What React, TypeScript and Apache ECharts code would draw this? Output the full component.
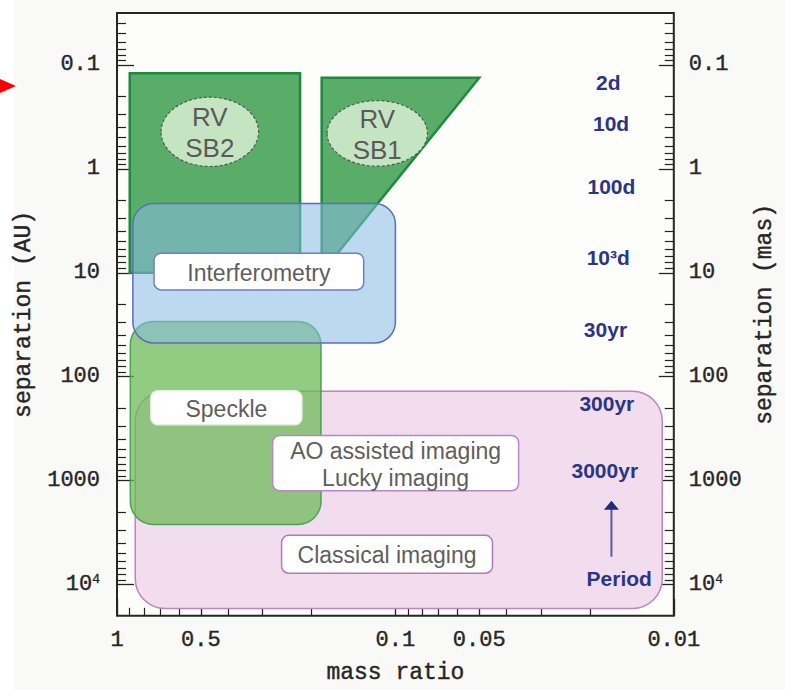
import React, { useEffect, useRef } from 'react';
import * as echarts from 'echarts';

// ---------- axis ticks & labels ----------
const xMajorTicks = [1, 0.5, 0.1, 0.05, 0.01];
const xMajorLabels = ['1', '0.5', '0.1', '0.05', '0.01'];
const xMinorTicks = [0.9, 0.8, 0.7, 0.6, 0.4, 0.3, 0.2, 0.09, 0.08, 0.07, 0.06, 0.04, 0.03, 0.02];
const yMajorTicks = [0.1, 1, 10, 100, 1000, 10000];
const yMajorLabels = ['0.1', '1', '10', '100', '1000', '10{sup|4}'];
const yMinorTicks = [
  0.04, 0.05, 0.06, 0.07, 0.08, 0.09,
  0.2, 0.3, 0.4, 0.5, 0.6, 0.7, 0.8, 0.9,
  2, 3, 4, 5, 6, 7, 8, 9,
  20, 30, 40, 50, 60, 70, 80, 90,
  200, 300, 400, 500, 600, 700, 800, 900,
  2000, 3000, 4000, 5000, 6000, 7000, 8000, 9000,
];

// ---------- technique regions (mass ratio range, separation range in AU) ----------
const regionNames = ['Classical imaging', 'Speckle', 'Interferometry'];
const regionQHigh = [0.86, 0.896, 0.877];
const regionQLow = [0.011, 0.185, 0.1];
const regionSepLow = [138, 29.5, 2.15];
const regionSepHigh = [17000, 2640, 47.4];

// ---------- RV polygons ----------
const sb2Q = [0.9, 0.22, 0.22, 0.9];
const sb2Sep = [0.12, 0.12, 10, 10];
const sb1Q = [0.184, 0.05, 0.184];
const sb1Sep = [0.133, 0.133, 10];

// ---------- RV ellipses ----------
const ellipseTexts = ['RV\nSB2', 'RV\nSB1'];
const ellipseQHigh = [0.695, 0.176];
const ellipseQLow = [0.31, 0.0767];
const ellipseSepLow = [0.204, 0.22];
const ellipseSepHigh = [0.948, 0.942];

// ---------- label boxes ----------
const boxTexts = ['Interferometry', 'Speckle', 'AO assisted imaging\nLucky imaging', 'Classical imaging'];
const boxQHigh = [0.736, 0.756, 0.276, 0.2563];
const boxQLow = [0.13, 0.2167, 0.0361, 0.0448];
const boxSepLow = [6.49, 136.7, 367, 3365];
const boxSepHigh = [14.6, 290, 1253, 7780];

// ---------- period labels ----------
const periodLabels = ['2d', '10d', '100d', '10³d', '30yr', '300yr', '3000yr', 'Period'];
const periodQ = [0.0172, 0.0168, 0.01675, 0.0172, 0.0176, 0.0174, 0.0177, 0.0157];
const periodSep = [0.147, 0.367, 1.47, 7.08, 35.4, 183, 791, 8810];
const arrowQ = [0.01675];
const arrowSepTail = [5400];
const arrowSepHead = [1560];

// ---------- styles ----------
const REGION_STYLES: Record<string, { fill: string; stroke: string; r: number }> = {
  'Classical imaging': { fill: '#f1ddee', stroke: '#c283b6', r: 30 },
  Speckle: { fill: 'rgba(108,186,88,0.74)', stroke: 'rgba(60,150,75,0.85)', r: 23 },
  Interferometry: { fill: 'rgba(137,188,228,0.55)', stroke: '#5b6fb8', r: 21 },
};
const BOX_STROKES = ['#6f7fc0', '#e6f0e2', '#b48ac0', '#b07cb8'];
const AXIS_FONT = 'Liberation Mono';
const SANS = 'Liberation Sans';

function labelFor(ticks: number[], labels: string[], v: number) {
  for (let i = 0; i < ticks.length; i++) {
    if (Math.abs(Math.log10(v) - Math.log10(ticks[i])) < 1e-6) return labels[i];
  }
  return '';
}

function makeRegionSeries(indices: number[]) {
  return {
    type: 'custom',
    xAxisIndex: 0,
    yAxisIndex: 0,
    encode: { x: [0, 1], y: [2, 3] },
    data: indices.map((i) => ({
      name: regionNames[i],
      value: [regionQHigh[i], regionQLow[i], regionSepLow[i], regionSepHigh[i]],
    })),
    renderItem: (params: any, api: any) => {
      const name = regionNames[indices[params.dataIndex]];
      const st = REGION_STYLES[name];
      const p1 = api.coord([api.value(0), api.value(2)]);
      const p2 = api.coord([api.value(1), api.value(3)]);
      return {
        type: 'rect',
        shape: {
          x: Math.min(p1[0], p2[0]),
          y: Math.min(p1[1], p2[1]),
          width: Math.abs(p2[0] - p1[0]),
          height: Math.abs(p2[1] - p1[1]),
          r: st.r,
        },
        style: { fill: st.fill, stroke: st.stroke, lineWidth: 1.5 },
      };
    },
  };
}

export default function App() {
  const ref = useRef<HTMLDivElement>(null);

  useEffect(() => {
    if (!ref.current) return;
    const chart = echarts.init(ref.current, undefined, { renderer: 'svg' });

    const polygons = [
      { q: sb2Q, sep: sb2Sep },
      { q: sb1Q, sep: sb1Sep },
    ];

    const ink = '#262626';
    const axisTextStyle = {
      fontFamily: AXIS_FONT,
      fontSize: 22,
      color: ink,
      textBorderColor: ink,
      textBorderWidth: 0.4,
    };
    const richY = {
      sup: {
        fontFamily: AXIS_FONT,
        fontSize: 13,
        color: ink,
        textBorderColor: ink,
        textBorderWidth: 0.3,
        verticalAlign: 'top',
        padding: [0, 0, 10, 0],
      },
    };
    const nameStyle = {
      fontFamily: AXIS_FONT,
      fontSize: 23,
      color: ink,
      textBorderColor: ink,
      textBorderWidth: 0.4,
    };

    const option: any = {
      animation: false,
      backgroundColor: '#f9f9f7',
      grid: {
        left: 117,
        right: 110,
        top: 13,
        bottom: 68,
        show: true,
        borderColor: '#262626',
        borderWidth: 2,
        backgroundColor: '#fdfdfc',
        containLabel: false,
      },
      xAxis: [
        {
          type: 'log',
          logBase: 10,
          min: 0.01,
          max: 1,
          inverse: true,
          position: 'bottom',
          name: 'mass ratio',
          nameLocation: 'middle',
          nameGap: 46,
          nameTextStyle: nameStyle,
          axisLine: { show: false },
          splitLine: { show: false },
          axisTick: { show: true, inside: true, length: 17, customValues: xMajorTicks, lineStyle: { color: '#222', width: 1.3 } },
          axisLabel: {
            customValues: xMajorTicks,
            margin: 14,
            ...axisTextStyle,
            formatter: (v: number) => labelFor(xMajorTicks, xMajorLabels, v),
          },
        },
        {
          type: 'log',
          logBase: 10,
          min: 0.01,
          max: 1,
          inverse: true,
          position: 'bottom',
          axisLine: { show: false },
          splitLine: { show: false },
          axisLabel: { show: false },
          axisTick: { show: true, inside: true, length: 8, customValues: xMinorTicks, lineStyle: { color: '#222', width: 1.2 } },
        },
      ],
      yAxis: [
        {
          type: 'log',
          logBase: 10,
          min: 0.0316,
          max: 20000,
          inverse: true,
          position: 'left',
          name: 'separation (AU)',
          nameLocation: 'middle',
          nameRotate: 90,
          nameGap: 70,
          nameTextStyle: nameStyle,
          axisLine: { show: false },
          splitLine: { show: false },
          axisTick: { show: true, inside: true, length: 17, customValues: yMajorTicks, lineStyle: { color: '#222', width: 1.3 } },
          axisLabel: {
            customValues: yMajorTicks,
            margin: 17,
            ...axisTextStyle,
            rich: richY,
            formatter: (v: number) => labelFor(yMajorTicks, yMajorLabels, v),
          },
        },
        {
          type: 'log',
          logBase: 10,
          min: 0.0316,
          max: 20000,
          inverse: true,
          position: 'left',
          axisLine: { show: false },
          splitLine: { show: false },
          axisLabel: { show: false },
          axisTick: { show: true, inside: true, length: 9, customValues: yMinorTicks, lineStyle: { color: '#222', width: 1.2 } },
        },
        {
          type: 'log',
          logBase: 10,
          min: 0.0316,
          max: 20000,
          inverse: true,
          position: 'right',
          name: 'separation (mas)',
          nameLocation: 'middle',
          nameRotate: 90,
          nameGap: 80,
          nameTextStyle: nameStyle,
          axisLine: { show: false },
          splitLine: { show: false },
          axisTick: { show: true, inside: true, length: 15, customValues: yMajorTicks, lineStyle: { color: '#222', width: 1.3 } },
          axisLabel: {
            customValues: yMajorTicks,
            margin: 15,
            ...axisTextStyle,
            rich: richY,
            formatter: (v: number) => labelFor(yMajorTicks, yMajorLabels, v),
          },
        },
        {
          type: 'log',
          logBase: 10,
          min: 0.0316,
          max: 20000,
          inverse: true,
          position: 'right',
          axisLine: { show: false },
          splitLine: { show: false },
          axisLabel: { show: false },
          axisTick: { show: true, inside: true, length: 9, customValues: yMinorTicks, lineStyle: { color: '#222', width: 1.2 } },
        },
      ],
      graphic: [
        { type: 'rect', left: 0, top: 0, shape: { width: 14, height: 690 }, style: { fill: '#ffffff' }, z: -1 },
        { type: 'polygon', shape: { points: [[0, 79], [16, 86], [0, 93]] }, style: { fill: '#ff0000' } },
      ],
      series: [
        makeRegionSeries([0, 1]),
        {
          type: 'custom',
          xAxisIndex: 0,
          yAxisIndex: 0,
          data: polygons.map((p) => [p.q[0], p.sep[0]]),
          renderItem: (params: any, api: any) => {
            const poly = polygons[params.dataIndex];
            const points = poly.q.map((q, k) => api.coord([q, poly.sep[k]]));
            return {
              type: 'polygon',
              shape: { points },
              style: { fill: '#5aad68', stroke: '#1d8a3c', lineWidth: 2.5 },
            };
          },
        },
        makeRegionSeries([2]),
        {
          type: 'custom',
          xAxisIndex: 0,
          yAxisIndex: 0,
          encode: { x: [0, 1], y: [2, 3] },
          data: ellipseTexts.map((t, i) => ({
            name: t,
            value: [ellipseQHigh[i], ellipseQLow[i], ellipseSepLow[i], ellipseSepHigh[i]],
          })),
          renderItem: (params: any, api: any) => {
            const p1 = api.coord([api.value(0), api.value(2)]);
            const p2 = api.coord([api.value(1), api.value(3)]);
            const cx = (p1[0] + p2[0]) / 2;
            const cy = (p1[1] + p2[1]) / 2;
            return {
              type: 'group',
              children: [
                {
                  type: 'ellipse',
                  shape: { cx, cy, rx: Math.abs(p2[0] - p1[0]) / 2, ry: Math.abs(p2[1] - p1[1]) / 2 },
                  style: { fill: 'rgba(206,233,202,0.92)', stroke: '#4a5e4e', lineWidth: 1.2, lineDash: [3, 2] },
                },
                {
                  type: 'text',
                  x: cx,
                  y: cy + 1,
                  style: {
                    text: ellipseTexts[params.dataIndex],
                    align: 'center',
                    verticalAlign: 'middle',
                    fontSize: 26,
                    lineHeight: 31,
                    fontFamily: SANS,
                    fill: '#5a5a5a',
                  },
                },
              ],
            };
          },
        },
        {
          type: 'custom',
          xAxisIndex: 0,
          yAxisIndex: 0,
          encode: { x: [0, 1], y: [2, 3] },
          data: boxTexts.map((t, i) => ({
            name: t,
            value: [boxQHigh[i], boxQLow[i], boxSepLow[i], boxSepHigh[i]],
          })),
          renderItem: (params: any, api: any) => {
            const p1 = api.coord([api.value(0), api.value(2)]);
            const p2 = api.coord([api.value(1), api.value(3)]);
            const x = Math.min(p1[0], p2[0]);
            const y = Math.min(p1[1], p2[1]);
            const w = Math.abs(p2[0] - p1[0]);
            const h = Math.abs(p2[1] - p1[1]);
            return {
              type: 'group',
              children: [
                {
                  type: 'rect',
                  shape: { x, y, width: w, height: h, r: 7 },
                  style: { fill: '#ffffff', stroke: BOX_STROKES[params.dataIndex], lineWidth: 1.5 },
                },
                {
                  type: 'text',
                  x: x + w / 2,
                  y: y + h / 2 + 1,
                  style: {
                    text: boxTexts[params.dataIndex],
                    align: 'center',
                    verticalAlign: 'middle',
                    fontSize: 23,
                    lineHeight: 27,
                    fontFamily: SANS,
                    fill: '#5e5e5e',
                  },
                },
              ],
            };
          },
        },
        {
          type: 'custom',
          xAxisIndex: 0,
          yAxisIndex: 0,
          data: periodLabels.map((t, i) => ({ name: t, value: [periodQ[i], periodSep[i]] })),
          renderItem: (params: any, api: any) => {
            const p = api.coord([api.value(0), api.value(1)]);
            return {
              type: 'text',
              x: p[0],
              y: p[1],
              style: {
                text: periodLabels[params.dataIndex],
                align: 'center',
                verticalAlign: 'middle',
                fontSize: 21,
                fontWeight: 'bold',
                fontFamily: SANS,
                fill: '#2b3585',
              },
            };
          },
        },
        {
          type: 'custom',
          xAxisIndex: 0,
          yAxisIndex: 0,
          encode: { x: 0, y: [1, 2] },
          data: arrowQ.map((q, i) => [q, arrowSepTail[i], arrowSepHead[i]]),
          renderItem: (params: any, api: any) => {
            const a = api.coord([api.value(0), api.value(1)]);
            const b = api.coord([api.value(0), api.value(2)]);
            return {
              type: 'group',
              children: [
                {
                  type: 'line',
                  shape: { x1: a[0], y1: a[1], x2: b[0], y2: b[1] + 8 },
                  style: { stroke: '#5b5b9c', lineWidth: 2 },
                },
                {
                  type: 'polygon',
                  shape: { points: [[b[0], b[1]], [b[0] - 7.5, b[1] + 9], [b[0] + 7.5, b[1] + 9]] },
                  style: { fill: '#1f2a78' },
                },
              ],
            };
          },
        },
      ],
    };

    chart.setOption(option);
    return () => chart.dispose();
  }, []);

  return (
    <div
      ref={ref}
      style={{ position: 'absolute', left: 0, top: 0, width: 785, height: 690 }}
    />
  );
}
